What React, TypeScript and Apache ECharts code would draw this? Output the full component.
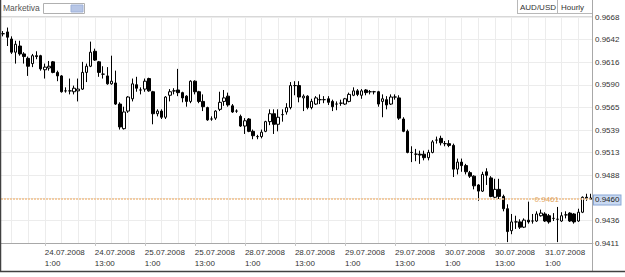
import React, { useEffect, useRef } from "react";
import * as echarts from "echarts";

// AUD/USD hourly candles, 23.07.2008 15:00 .. 31.07.2008 12:00 (142 bars)
const opens = [
  0.9649, 0.9651, 0.9643, 0.9628, 0.9635, 0.9626, 0.9621, 0.9615, 0.9624, 0.9624,
  0.9608, 0.9610, 0.9617, 0.9605, 0.9601, 0.9584, 0.9584, 0.9583, 0.9584, 0.9586,
  0.9605, 0.9612, 0.9629, 0.9617, 0.9603, 0.9601, 0.9592, 0.9593, 0.9569, 0.9541,
  0.9561, 0.9575, 0.9591, 0.9585, 0.9586, 0.9598, 0.9583, 0.9558, 0.9561, 0.9554,
  0.9579, 0.9584, 0.9585, 0.9582, 0.9578, 0.9572, 0.9595, 0.9583, 0.9572, 0.9565,
  0.9552, 0.9553, 0.9563, 0.9572, 0.9578, 0.9567, 0.9561, 0.9555, 0.9544, 0.9552,
  0.9538, 0.9532, 0.9532, 0.9538, 0.9549, 0.9558, 0.9546, 0.9557, 0.9560, 0.9565,
  0.9590, 0.9590, 0.9576, 0.9578, 0.9565, 0.9569, 0.9574, 0.9574, 0.9575, 0.9572,
  0.9569, 0.9570, 0.9569, 0.9572, 0.9579, 0.9584, 0.9579, 0.9585, 0.9583, 0.9583,
  0.9583, 0.9572, 0.9574, 0.9569, 0.9577, 0.9576, 0.9552, 0.9538, 0.9514, 0.9512,
  0.9512, 0.9512, 0.9508, 0.9514, 0.9528, 0.9530, 0.9524, 0.9524, 0.9522, 0.9495,
  0.9503, 0.9499, 0.9491, 0.9487, 0.9477, 0.9470, 0.9492, 0.9485, 0.9463, 0.9472,
  0.9464, 0.9450, 0.9425, 0.9435, 0.9435, 0.9429, 0.9437, 0.9436, 0.9436, 0.9442,
  0.9444, 0.9442, 0.9439, 0.9438, 0.9436, 0.9443, 0.9445, 0.9444, 0.9436, 0.9446,
  0.9463, 0.9462,
];
const closes = [
  0.9649, 0.9645, 0.9628, 0.9637, 0.9626, 0.9623, 0.9612, 0.9624, 0.9623, 0.9609,
  0.9611, 0.9612, 0.9605, 0.9601, 0.9583, 0.9584, 0.9584, 0.9587, 0.9586, 0.9605,
  0.9612, 0.9628, 0.9619, 0.9605, 0.9603, 0.9592, 0.9595, 0.9569, 0.9543, 0.9560,
  0.9577, 0.9592, 0.9587, 0.9585, 0.9595, 0.9584, 0.9558, 0.9561, 0.9554, 0.9577,
  0.9583, 0.9584, 0.9582, 0.9576, 0.9572, 0.9595, 0.9583, 0.9572, 0.9566, 0.9551,
  0.9552, 0.9561, 0.9571, 0.9576, 0.9568, 0.9560, 0.9561, 0.9544, 0.9550, 0.9538,
  0.9533, 0.9532, 0.9537, 0.9549, 0.9558, 0.9546, 0.9554, 0.9557, 0.9565, 0.9590,
  0.9590, 0.9577, 0.9578, 0.9565, 0.9572, 0.9576, 0.9574, 0.9574, 0.9571, 0.9566,
  0.9569, 0.9570, 0.9575, 0.9580, 0.9584, 0.9580, 0.9584, 0.9582, 0.9583, 0.9583,
  0.9569, 0.9575, 0.9568, 0.9577, 0.9577, 0.9553, 0.9538, 0.9514, 0.9514, 0.9512,
  0.9511, 0.9508, 0.9514, 0.9526, 0.9528, 0.9525, 0.9524, 0.9522, 0.9495, 0.9503,
  0.9499, 0.9492, 0.9487, 0.9476, 0.9470, 0.9489, 0.9488, 0.9464, 0.9472, 0.9464,
  0.9450, 0.9424, 0.9435, 0.9435, 0.9429, 0.9437, 0.9435, 0.9436, 0.9444, 0.9445,
  0.9436, 0.9435, 0.9439, 0.9438, 0.9442, 0.9443, 0.9436, 0.9435, 0.9446, 0.9463,
  0.9462, 0.9461,
];
const lows = [
  0.9646, 0.9635, 0.9626, 0.9615, 0.9624, 0.9615, 0.9601, 0.9611, 0.9620, 0.9607,
  0.9598, 0.9607, 0.9604, 0.9595, 0.9582, 0.9582, 0.9580, 0.9580, 0.9572, 0.9585,
  0.9594, 0.9611, 0.9618, 0.9600, 0.9598, 0.9591, 0.9591, 0.9568, 0.9540, 0.9540,
  0.9559, 0.9572, 0.9583, 0.9580, 0.9583, 0.9583, 0.9546, 0.9555, 0.9552, 0.9552,
  0.9572, 0.9580, 0.9578, 0.9571, 0.9566, 0.9570, 0.9580, 0.9570, 0.9561, 0.9550,
  0.9550, 0.9551, 0.9561, 0.9567, 0.9566, 0.9559, 0.9559, 0.9543, 0.9535, 0.9537,
  0.9529, 0.9529, 0.9530, 0.9537, 0.9545, 0.9535, 0.9538, 0.9549, 0.9557, 0.9563,
  0.9579, 0.9571, 0.9561, 0.9563, 0.9563, 0.9568, 0.9569, 0.9570, 0.9568, 0.9561,
  0.9562, 0.9567, 0.9568, 0.9571, 0.9578, 0.9578, 0.9575, 0.9579, 0.9580, 0.9580,
  0.9566, 0.9554, 0.9563, 0.9568, 0.9574, 0.9551, 0.9537, 0.9513, 0.9503, 0.9504,
  0.9501, 0.9505, 0.9505, 0.9513, 0.9524, 0.9522, 0.9521, 0.9520, 0.9486, 0.9489,
  0.9492, 0.9489, 0.9485, 0.9472, 0.9459, 0.9469, 0.9477, 0.9463, 0.9462, 0.9461,
  0.9447, 0.9412, 0.9421, 0.9427, 0.9427, 0.9428, 0.9433, 0.9433, 0.9435, 0.9441,
  0.9435, 0.9433, 0.9436, 0.9412, 0.9435, 0.9439, 0.9435, 0.9433, 0.9435, 0.9445,
  0.9459, 0.9460,
];
const highs = [
  0.9652, 0.9656, 0.9646, 0.9641, 0.9641, 0.9628, 0.9623, 0.9626, 0.9629, 0.9625,
  0.9615, 0.9618, 0.9618, 0.9607, 0.9602, 0.9588, 0.9598, 0.9590, 0.9598, 0.9617,
  0.9615, 0.9640, 0.9632, 0.9618, 0.9612, 0.9611, 0.9624, 0.9607, 0.9571, 0.9566,
  0.9578, 0.9598, 0.9600, 0.9588, 0.9598, 0.9599, 0.9584, 0.9563, 0.9563, 0.9578,
  0.9586, 0.9587, 0.9609, 0.9583, 0.9579, 0.9596, 0.9596, 0.9584, 0.9580, 0.9566,
  0.9555, 0.9562, 0.9583, 0.9585, 0.9582, 0.9569, 0.9563, 0.9557, 0.9553, 0.9553,
  0.9540, 0.9534, 0.9540, 0.9550, 0.9563, 0.9563, 0.9563, 0.9563, 0.9570, 0.9594,
  0.9595, 0.9595, 0.9580, 0.9579, 0.9575, 0.9578, 0.9580, 0.9578, 0.9578, 0.9574,
  0.9572, 0.9574, 0.9576, 0.9582, 0.9588, 0.9586, 0.9586, 0.9586, 0.9585, 0.9584,
  0.9584, 0.9580, 0.9578, 0.9580, 0.9580, 0.9579, 0.9554, 0.9540, 0.9521, 0.9518,
  0.9516, 0.9516, 0.9517, 0.9528, 0.9532, 0.9533, 0.9527, 0.9528, 0.9524, 0.9507,
  0.9507, 0.9501, 0.9493, 0.9488, 0.9478, 0.9492, 0.9496, 0.9487, 0.9484, 0.9484,
  0.9466, 0.9455, 0.9444, 0.9442, 0.9438, 0.9439, 0.9458, 0.9444, 0.9447, 0.9449,
  0.9446, 0.9444, 0.9445, 0.9452, 0.9446, 0.9447, 0.9446, 0.9445, 0.9450, 0.9464,
  0.9467, 0.9467,
];

const xTickLabels = [
  "24.07.2008\n1:00", "24.07.2008\n13:00", "25.07.2008\n1:00", "25.07.2008\n13:00",
  "28.07.2008\n1:00", "28.07.2008\n13:00", "29.07.2008\n1:00", "29.07.2008\n13:00",
  "30.07.2008\n1:00", "30.07.2008\n13:00", "31.07.2008\n1:00",
];
const firstLabelIndex = 10;
const labelEvery = 12;
const gridEvery = 4;

const yTickLabels = ["0.9411", "0.9436", "", "0.9488", "0.9513", "0.9539", "0.9565", "0.9590", "0.9616", "0.9642", "0.9668"];
const yMin = 0.9411;
const yMax = 0.9668;
const yStep = 0.00257;

const lastLineValue = 0.9461;
const currentPrice = 0.946;

const brand = "Marketiva";
const symbolName = "AUD/USD";
const periodName = "Hourly";

const FONT = "'Liberation Sans', Arial, sans-serif";

export default function App() {
  const ref = useRef<HTMLDivElement>(null);
  useEffect(() => {
    if (!ref.current) return;
    const chart = echarts.init(ref.current, undefined, { renderer: "svg" });
    const categories = opens.map((_, i) => String(i));
    const data = opens.map((o, i) => [o, closes[i], lows[i], highs[i]]);
    const isLabel = (i: number) => i >= firstLabelIndex && (i - firstLabelIndex) % labelEvery === 0;

    chart.setOption({
      animation: false,
      backgroundColor: "#ffffff",
      textStyle: { fontFamily: FONT },
      grid: { left: 1, right: 32, top: 17, bottom: 34, containLabel: false },
      xAxis: {
        type: "category",
        data: categories,
        boundaryGap: true,
        axisLine: { show: true, lineStyle: { color: "#a8a8a8", width: 1 } },
        axisTick: { show: true, alignWithLabel: true, interval: (i: number) => isLabel(i), length: 3, lineStyle: { color: "#c8c8c8" } },
        axisLabel: {
          interval: (i: number) => isLabel(i),
          formatter: (_v: string, i: number) => xTickLabels[(i - firstLabelIndex) / labelEvery] ?? "",
          align: "left",
          margin: 4,
          fontSize: 8,
          lineHeight: 11,
          color: "#333",
          fontFamily: FONT,
        },
        splitLine: {
          show: true,
          alignWithLabel: true,
          interval: (i: number) => i >= 2 && (i - 2) % gridEvery === 0,
          lineStyle: { color: "#ececec", width: 1 },
        },
      },
      yAxis: {
        type: "value",
        position: "right",
        min: yMin,
        max: yMax,
        interval: yStep,
        axisLine: { show: false },
        axisTick: { show: false },
        axisLabel: {
          formatter: (_v: number, i: number) => yTickLabels[i] ?? "",
          margin: 2,
          fontSize: 8,
          color: "#333",
          fontFamily: FONT,
        },
        splitLine: { show: true, lineStyle: { color: "#ececec", width: 1 } },
      },
      series: [
        {
          type: "candlestick",
          data,
          barWidth: 3,
          itemStyle: {
            color: "#ffffff",
            color0: "#000000",
            borderColor: "#000000",
            borderColor0: "#000000",
            borderColorDoji: "#000000",
            borderWidth: 1,
          },
          markLine: {
            silent: true,
            symbol: "none",
            precision: 4,
            data: [
              {
                yAxis: lastLineValue,
                lineStyle: { color: "#f0c08c", type: [2, 1], width: 1.5 },
                label: {
                  show: true,
                  position: "insideEnd",
                  distance: [34, 0],
                  formatter: () => lastLineValue.toFixed(4),
                  color: "#e3a868",
                  fontSize: 8,
                  fontFamily: FONT,
                },
              },
              {
                yAxis: currentPrice,
                lineStyle: { color: "rgba(0,0,0,0)", width: 1 },
                label: {
                  show: true,
                  position: "end",
                  distance: 1,
                  formatter: () => currentPrice.toFixed(4),
                  color: "#222",
                  fontSize: 8,
                  fontFamily: FONT,
                  backgroundColor: "#c9d9f1",
                  borderColor: "#88a6d6",
                  borderWidth: 1,
                  padding: [1, 1, 0, 1],
                },
              },
            ],
          },
        },
      ],
      graphic: [
        { type: "line", shape: { x1: 592.5, y1: 0, x2: 592.5, y2: 271 }, style: { stroke: "#a8a8a8", lineWidth: 1 }, z: 10 },
        { type: "line", shape: { x1: 0, y1: 16.5, x2: 592, y2: 16.5 }, style: { stroke: "#d8d8d8", lineWidth: 1 }, z: 10 },
        { type: "line", shape: { x1: 517.5, y1: 0, x2: 517.5, y2: 14 }, style: { stroke: "#b8b8b8", lineWidth: 1 }, z: 10 },
        { type: "line", shape: { x1: 557.5, y1: 0, x2: 557.5, y2: 14 }, style: { stroke: "#b8b8b8", lineWidth: 1 }, z: 10 },
        { type: "line", shape: { x1: 517, y1: 13.5, x2: 592, y2: 13.5 }, style: { stroke: "#b8b8b8", lineWidth: 1 }, z: 10 },
        { type: "text", x: 520, y: 3, style: { text: symbolName, fontSize: 8, fill: "#333", fontFamily: FONT }, z: 10 },
        { type: "text", x: 561, y: 3, style: { text: periodName, fontSize: 8, fill: "#333", fontFamily: FONT }, z: 10 },
        { type: "text", x: 3, y: 3, style: { text: brand, fontSize: 8.5, fill: "#555", fontFamily: FONT }, z: 10 },
        { type: "rect", shape: { x: 43.5, y: 3.5, width: 41, height: 10 }, style: { fill: "#ffffff", stroke: "#b0b0b0", lineWidth: 1 }, z: 10 },
        { type: "rect", shape: { x: 71, y: 5, width: 12, height: 7 }, style: { fill: "#b7c6e6", stroke: "#9fb2da", lineWidth: 1 }, z: 11 },
        { type: "line", shape: { x1: 0.5, y1: 0, x2: 0.5, y2: 272 }, style: { stroke: "#404040", lineWidth: 1.5 }, z: 12 },
        { type: "line", shape: { x1: 0, y1: 271.5, x2: 625, y2: 271.5 }, style: { stroke: "#404040", lineWidth: 1.5 }, z: 12 },
      ],
    });
    return () => chart.dispose();
  }, []);
  return (
    <div
      ref={ref}
      style={{ position: "fixed", left: 0, top: 0, width: 625, height: 277, background: "#fff" }}
    />
  );
}
